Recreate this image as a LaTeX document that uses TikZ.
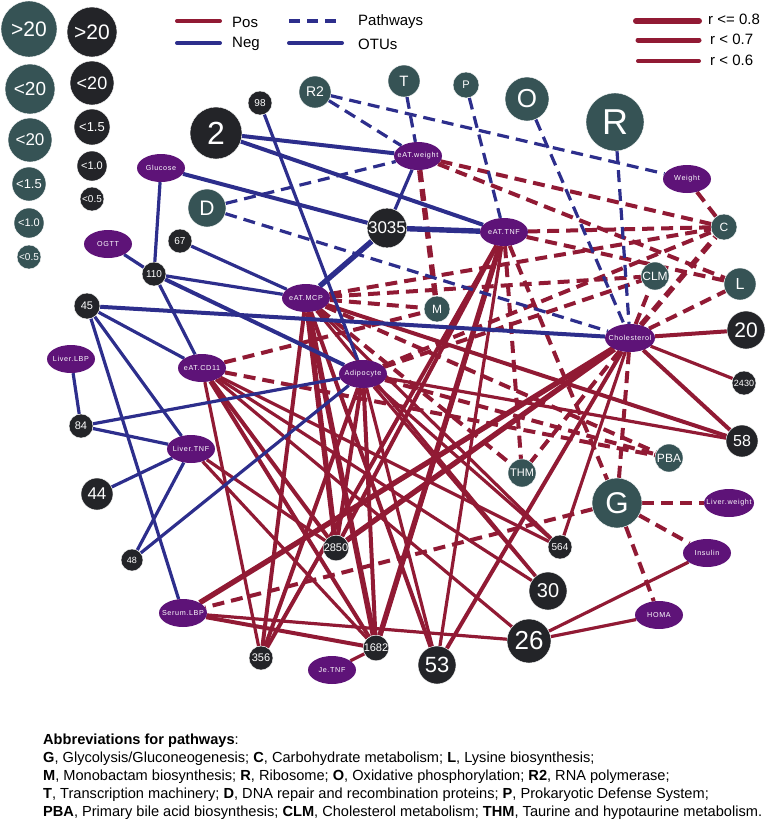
\documentclass[tikz,border=0pt]{standalone}
\usepackage{fontspec}
\setmainfont{Liberation Sans}
\newfontfamily\spacedfont[LetterSpace=9]{Liberation Sans}
\usetikzlibrary{shapes.geometric}
\definecolor{posred}{RGB}{145,26,52}
\definecolor{negblue}{RGB}{45,46,140}
\definecolor{pwteal}{RGB}{54,83,85}
\definecolor{otublack}{RGB}{35,36,40}
\definecolor{clinpurple}{RGB}{94,19,120}
\newcommand{\cliplab}[1]{\makebox[0pt][c]{#1}}
\pgfdeclarelayer{bg}
\pgfsetlayers{bg,main}
\tikzset{
  sz/.style 2 args={minimum size=#1pt, font=\fontsize{#2}{#2}\selectfont},
  pw/.style={circle, fill=pwteal, text=white, inner sep=0pt, draw=white, line width=0.4pt},
  otu/.style={circle, fill=otublack, text=white, inner sep=0pt, draw=white, line width=0.4pt},
  clin/.style={ellipse, fill=clinpurple, text=white, minimum width=48pt, minimum height=28pt, inner sep=0pt, font=\spacedfont\fontsize{7.2}{8}\selectfont},
  posline/.style={draw=posred},
  negline/.style={draw=negblue},
  pwd/.style={dash pattern=on 12pt off 7pt},
  wa/.style={line width=3.2pt},
  wb/.style={line width=4pt},
  wc/.style={line width=5.4pt},
  legtext/.style={anchor=west, inner sep=0pt, font=\fontsize{15}{15}\selectfont},
  abbr/.style={anchor=west, inner sep=0pt, font=\fontsize{14.6}{16}\selectfont},
}
\begin{document}
\begin{tikzpicture}[x=1pt,y=-1pt]
\useasboundingbox (0,0) rectangle (770,820);
% ---------- size legend ----------
\node[pw,sz={56}{21}] (lt1) at (29,29) {>20};
\node[pw,sz={50}{19}] (lt2) at (30,89) {<20};
\node[pw,sz={44}{17}] (lt3) at (30,140) {<20};
\node[pw,sz={34}{13}] (lt4) at (29,184) {<1.5};
\node[pw,sz={30}{11}] (lt5) at (29,223) {<1.0};
\node[pw,sz={24}{10}] (lt6) at (29,257) {<0.5};
\node[otu,sz={50}{21}] (lb1) at (92,32) {>20};
\node[otu,sz={44}{18}] (lb2) at (92,83) {<20};
\node[otu,sz={36}{13}] (lb3) at (92,127) {<1.5};
\node[otu,sz={30}{11}] (lb4) at (92,166) {<1.0};
\node[otu,sz={24}{10}] (lb5) at (92,199) {<0.5};
% ---------- line legend ----------
\coordinate (lp1) at (177,21); \coordinate (lp2) at (220,21);
\coordinate (ln1) at (177,43); \coordinate (ln2) at (220,43);
\coordinate (ld1) at (289,21); \coordinate (ld2) at (340,21);
\coordinate (lo1) at (289,43); \coordinate (lo2) at (342,43);
\draw[posline,line width=4pt,line cap=round] (lp1) -- (lp2);
\draw[negline,line width=4pt,line cap=round] (ln1) -- (ln2);
\draw[negline,line width=4pt,dash pattern=on 11pt off 7pt] (ld1) -- (ld2);
\draw[negline,line width=4pt,line cap=round] (lo1) -- (lo2);
\node[legtext] (tpos) at (232,22) {Pos};
\node[legtext] (tneg) at (232,44) {Neg};
\node[legtext] (tpath) at (358,22) {Pathways};
\node[legtext] (totu) at (358,44) {OTUs};
\coordinate (lr1a) at (636,21); \coordinate (lr1b) at (699,21);
\coordinate (lr2a) at (638,40); \coordinate (lr2b) at (699,40);
\coordinate (lr3a) at (638,61); \coordinate (lr3b) at (699,61);
\draw[posline,line width=6pt,line cap=round] (lr1a) -- (lr1b);
\draw[posline,line width=5pt,line cap=round] (lr2a) -- (lr2b);
\draw[posline,line width=4pt,line cap=round] (lr3a) -- (lr3b);
\node[legtext] (tr1) at (708,19) {r <= 0.8};
\node[legtext] (tr2) at (710,39) {r < 0.7};
\node[legtext] (tr3) at (710,60) {r < 0.6};
% ---------- pathway nodes ----------
\node[pw,sz={32}{14}] (R2) at (315,92) {R2};
\node[pw,sz={32}{15}] (T) at (404,81) {T};
\node[pw,sz={26}{11}] (P) at (466,85) {P};
\node[pw,sz={44}{26}] (O) at (527,99) {O};
\node[pw,sz={58}{36}] (R) at (615,122) {R};
\node[pw,sz={38}{21}] (D) at (207,208) {D};
\node[pw,sz={26}{12}] (M) at (437,309) {M};
\node[pw,sz={26}{12}] (C) at (724,227) {C};
\node[pw,sz={28}{12}] (CLM) at (655,276) {CLM};
\node[pw,sz={32}{16}] (L) at (740,284) {L};
\node[pw,sz={28}{11}] (THM) at (522,473) {THM};
\node[pw,sz={28}{12}] (PBA) at (669,458) {PBA};
\node[pw,sz={50}{30}] (G) at (617,503) {G};
% ---------- OTU nodes ----------
\node[otu,sz={24}{10}] (o98) at (260,103) {98};
\node[otu,sz={52}{32}] (o2) at (216,133) {2};
\node[otu,sz={36}{17}] (o3035) at (387,228) {3035};
\node[otu,sz={24}{10}] (o67) at (180,241) {67};
\node[otu,sz={24}{10}] (o110) at (154,274) {110};
\node[otu,sz={26}{11}] (o45) at (87,306) {45};
\node[otu,sz={24}{11}] (o84) at (81,426) {84};
\node[otu,sz={32}{17}] (o44) at (97,494) {44};
\node[otu,sz={22}{9}] (o48) at (132,560) {48};
\node[otu,sz={38}{21}] (o20) at (746,330) {20};
\node[otu,sz={24}{9}] (o2430) at (744,383) {2430};
\node[otu,sz={32}{16}] (o58) at (742,441) {58};
\node[otu,sz={24}{10}] (o564) at (560,547) {564};
\node[otu,sz={38}{20}] (o30) at (548,591) {30};
\node[otu,sz={24}{11}] (o2850) at (336,548) {2850};
\node[otu,sz={24}{11}] (o356) at (261,658) {356};
\node[otu,sz={24}{11}] (o1682) at (376,648) {1682};
\node[otu,sz={38}{22}] (o53) at (437,665) {53};
\node[otu,sz={44}{26}] (o26) at (529,641) {26};
% ---------- clinical nodes ----------
\node[clin] (Glucose) at (161,168) {\cliplab{Glucose}};
\node[clin] (OGTT) at (108,244) {\cliplab{OGTT}};
\node[clin] (eATweight) at (418,156) {\cliplab{eAT.weight}};
\node[clin] (eATTNF) at (504,232) {\cliplab{eAT.TNF}};
\node[clin] (eATMCP) at (306,298) {\cliplab{eAT.MCP}};
\node[clin] (LiverLBP) at (71,359) {\cliplab{Liver.LBP}};
\node[clin] (eATCD11) at (202,368) {\cliplab{eAT.CD11}};
\node[clin] (Adipocyte) at (363,374) {\cliplab{Adipocyte}};
\node[clin,minimum width=50pt] (Cholesterol) at (630,338) {\cliplab{Cholesterol}};
\node[clin] (Weight) at (687,179) {\cliplab{Weight}};
\node[clin] (LiverTNF) at (191,449) {\cliplab{Liver.TNF}};
\node[clin,minimum width=50pt] (Liverweight) at (729,503) {\cliplab{Liver.weight}};
\node[clin] (Insulin) at (707,553) {\cliplab{Insulin}};
\node[clin] (HOMA) at (659,615) {\cliplab{HOMA}};
\node[clin] (SerumLBP) at (183,613) {\cliplab{Serum.LBP}};
\node[clin] (JeTNF) at (332,670) {\cliplab{Je.TNF}};
% ---------- edges ----------
\begin{pgfonlayer}{bg}
% red solid (positive, OTUs)
\draw[posline,wb] (Cholesterol) -- (o20);
\draw[posline,wa] (Cholesterol) -- (o2430);
\draw[posline,wb] (Cholesterol) -- (o58);
\draw[posline,wc] (Cholesterol) -- (SerumLBP);
\draw[posline,wc] (Cholesterol) -- (o2850);
\draw[posline,wb] (Cholesterol) -- (o53);
\draw[posline,wa] (Cholesterol) -- (o564);
\draw[posline,wc] (eATMCP) -- (o2850);
\draw[posline,wc] (eATMCP) -- (o1682);
\draw[posline,wb] (eATMCP) -- (o356);
\draw[posline,wb] (eATMCP) -- (o53);
\draw[posline,wb] (eATMCP) -- (o58);
\draw[posline,wa] (eATMCP) -- (o564);
\draw[posline,wa] (eATMCP) -- (o30);
\draw[posline,wb] (Adipocyte) -- (o356);
\draw[posline,wb] (Adipocyte) -- (o2850);
\draw[posline,wb] (Adipocyte) -- (o1682);
\draw[posline,wa] (Adipocyte) -- (o53);
\draw[posline,wa] (Adipocyte) -- (o30);
\draw[posline,wa] (Adipocyte) -- (o564);
\draw[posline,wa] (Adipocyte) -- (o58);
\draw[posline,wa] (eATCD11) -- (o356);
\draw[posline,wb] (eATCD11) -- (o2850);
\draw[posline,wb] (eATCD11) -- (o1682);
\draw[posline,wa] (eATCD11) -- (o564);
\draw[posline,wa] (eATCD11) -- (o30);
\draw[posline,wa] (eATCD11) -- (o26);
\draw[posline,wc] (eATTNF) -- (o1682);
\draw[posline,wb] (eATTNF) -- (o2850);
\draw[posline,wa] (eATTNF) -- (o53);
\draw[posline,wb] (eATTNF) -- (o356);
\draw[posline,wa] (LiverTNF) -- (o1682);
\draw[posline,wa] (LiverTNF) -- (o2850);
\draw[posline,wb] (SerumLBP) -- (o1682);
\draw[posline,wa] (SerumLBP) -- (o26);
\draw[posline,wa] (JeTNF) -- (o1682);
\draw[posline,wa] (Insulin) -- (o26);
\draw[posline,wa] (HOMA) -- (o26);
% red dashed (positive, pathways)
\draw[posline,wc,pwd] (eATweight) -- (M);
\draw[posline,wb,pwd] (eATweight) -- (C);
\draw[posline,wb,pwd] (eATweight) -- (L);
\draw[posline,wb,pwd] (eATTNF) -- (C);
\draw[posline,wb,pwd] (eATTNF) -- (L);
\draw[posline,wb,pwd] (eATTNF) -- (G);
\draw[posline,wb,pwd] (eATTNF) -- (THM);
\draw[posline,wb,pwd] (eATMCP) -- (C);
\draw[posline,wb,pwd] (eATMCP) -- (CLM);
\draw[posline,wb,pwd] (eATMCP) -- (M);
\draw[posline,wb,pwd] (eATMCP) -- (PBA);
\draw[posline,wb,pwd] (eATMCP) -- (THM);
\draw[posline,wb,pwd] (eATCD11) -- (M);
\draw[posline,wb,pwd] (eATCD11) -- (PBA);
\draw[posline,wb,pwd] (Adipocyte) -- (C);
\draw[posline,wb,pwd] (Adipocyte) -- (CLM);
\draw[posline,wb,pwd] (Adipocyte) -- (PBA);
\draw[posline,wc,pwd] (Cholesterol) -- (C);
\draw[posline,wb,pwd] (Cholesterol) -- (CLM);
\draw[posline,wb,pwd] (Cholesterol) -- (L);
\draw[posline,wb,pwd] (Cholesterol) -- (G);
\draw[posline,wb,pwd] (Cholesterol) -- (THM);
\draw[posline,wb,pwd] (Weight) -- (C);
\draw[posline,wb,pwd] (G) -- (Liverweight);
\draw[posline,wb,pwd] (G) -- (Insulin);
\draw[posline,wb,pwd] (G) -- (HOMA);
\draw[posline,wb,pwd] (G) -- (SerumLBP);
% blue solid (negative, OTUs)
\draw[negline,wb] (o2) -- (eATweight);
\draw[negline,wb] (o2) -- (eATTNF);
\draw[negline,wa] (o98) -- (Adipocyte);
\draw[negline,wb] (Glucose) -- (o3035);
\draw[negline,wa] (Glucose) -- (o110);
\draw[negline,wa] (o3035) -- (eATweight);
\draw[negline,wc] (o3035) -- (eATTNF);
\draw[negline,wc] (o3035) -- (eATMCP);
\draw[negline,wa] (o67) -- (eATMCP);
\draw[negline,wa] (OGTT) -- (o110);
\draw[negline,wa] (o110) -- (eATMCP);
\draw[negline,wb] (o110) -- (Adipocyte);
\draw[negline,wa] (o110) -- (eATCD11);
\draw[negline,wb] (o45) -- (Cholesterol);
\draw[negline,wa] (o45) -- (eATCD11);
\draw[negline,wa] (o45) -- (LiverTNF);
\draw[negline,wa] (o45) -- (SerumLBP);
\draw[negline,wa] (LiverLBP) -- (o84);
\draw[negline,wa] (o84) -- (Adipocyte);
\draw[negline,wa] (o84) -- (LiverTNF);
\draw[negline,wa] (o44) -- (LiverTNF);
\draw[negline,wa] (LiverTNF) -- (o48);
\draw[negline,wa] (o48) -- (Adipocyte);
% blue dashed (negative, pathways)
\draw[negline,wa,pwd] (R2) -- (eATweight);
\draw[negline,wa,pwd] (R2) -- (Weight);
\draw[negline,wa,pwd] (T) -- (eATweight);
\draw[negline,wa,pwd] (P) -- (eATTNF);
\draw[negline,wa,pwd] (O) -- (Cholesterol);
\draw[negline,wa,pwd] (R) -- (Cholesterol);
\draw[negline,wa,pwd] (D) -- (eATweight);
\draw[negline,wa,pwd] (D) -- (Cholesterol);
\end{pgfonlayer}
% ---------- abbreviations ----------
\node[abbr] (ab0) at (43,741) {\textbf{Abbreviations for pathways}:};
\node[abbr] (ab1) at (43,759) {\textbf{G}, Glycolysis/Gluconeogenesis; \textbf{C}, Carbohydrate metabolism; \textbf{L}, Lysine biosynthesis;};
\node[abbr] (ab2) at (43,777) {\textbf{M}, Monobactam biosynthesis; \textbf{R}, Ribosome; \textbf{O}, Oxidative phosphorylation; \textbf{R2}, RNA polymerase;};
\node[abbr] (ab3) at (43,795) {\textbf{T}, Transcription machinery; \textbf{D}, DNA repair and recombination proteins; \textbf{P}, Prokaryotic Defense System;};
\node[abbr] (ab4) at (43,813) {\textbf{PBA}, Primary bile acid biosynthesis; \textbf{CLM}, Cholesterol metabolism; \textbf{THM}, Taurine and hypotaurine metabolism.};
\end{tikzpicture}
\end{document}
